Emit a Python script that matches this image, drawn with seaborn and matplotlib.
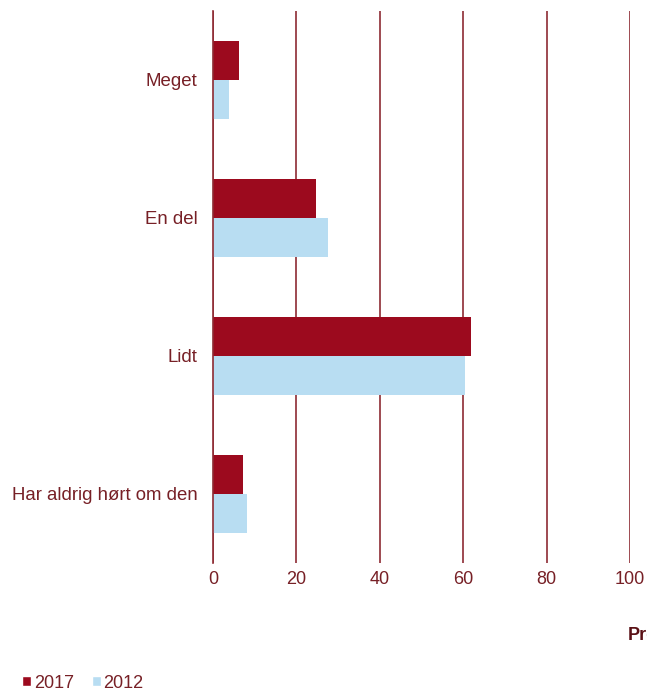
import matplotlib
matplotlib.use("Agg")
import matplotlib.pyplot as plt
import seaborn as sns
import pandas as pd
from matplotlib.patches import Patch

categories = ["Meget", "En del", "Lidt", "Har aldrig hørt om den"]
years = ["2017", "2012"]
values_2017 = [6.3, 24.7, 61.9, 7.3]
values_2012 = [3.9, 27.5, 60.4, 8.2]
xticks = [0, 20, 40, 60, 80, 100]

df = pd.DataFrame({
    "kategori": categories * 2,
    "år": [years[0]] * len(categories) + [years[1]] * len(categories),
    "procent": values_2017 + values_2012,
})

sns.set_theme(style="white")
plt.rcParams["font.family"] = ["Liberation Sans", "DejaVu Sans"]

dark_red = "#9C0A1E"
light_blue = "#B8DDF2"
text_col = "#772026"
grid_col = "#8E2B33"

fig = plt.figure(figsize=(6.47, 6.93), dpi=100)
ax = fig.add_axes([213 / 647, 1 - 563 / 693, 417 / 647, 552 / 693])

sns.barplot(data=df, y="kategori", x="procent", hue="år", orient="h",
            palette=[dark_red, light_blue], width=0.57, ax=ax,
            order=categories, hue_order=years, legend=False,
            saturation=1, edgecolor="none")

ax.set_xlim(0, 100)
ax.set_ylim(len(categories) - 0.5, -0.5)
ax.set_xticks(xticks)
ax.set_xticklabels([str(t) for t in xticks])
ax.xaxis.grid(True, color=grid_col, linewidth=1.2)
ax.yaxis.grid(False)
ax.set_axisbelow(True)
for side in ["top", "right", "bottom"]:
    ax.spines[side].set_visible(False)
ax.spines["left"].set_color(grid_col)
ax.spines["left"].set_linewidth(1.2)
ax.set_xlabel("")
ax.set_ylabel("")
ax.tick_params(axis="both", length=0, labelcolor=text_col)
ax.tick_params(axis="y", pad=11, labelsize=13.4)
ax.tick_params(axis="x", pad=6, labelsize=13)

# axis title sits at the lower right, running past the figure edge
fig.text(628 / 647, 1 - 635 / 693, "Procent", fontsize=13, fontweight="bold",
         color="#5A1015", va="center", ha="left")

handles = [Patch(facecolor=dark_red, label="2017"),
           Patch(facecolor=light_blue, label="2012")]
fig.legend(handles=handles, loc="center left", bbox_to_anchor=(0.034, 1 - 683 / 693),
           ncol=2, frameon=False, fontsize=13, labelcolor=text_col,
           borderaxespad=0, borderpad=0,
           handlelength=0.5, handleheight=0.5, handletextpad=0.15, columnspacing=1.0)

fig.savefig("out.png", dpi=100)
